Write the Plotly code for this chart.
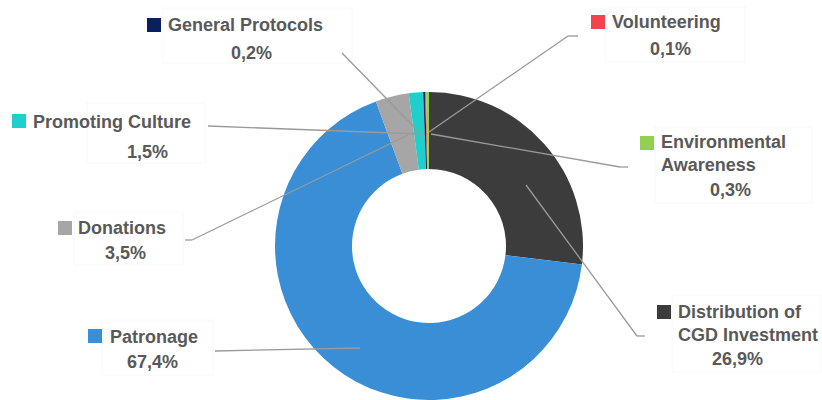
import plotly.graph_objects as go

# ---- data ----
categories = ["Distribution of CGD Investment", "Patronage", "Donations",
              "Promoting Culture", "General Protocols", "Volunteering",
              "Environmental Awareness"]
values = [26.9, 67.4, 3.5, 1.5, 0.2, 0.1, 0.3]
pct_labels = ["26,9%", "67,4%", "3,5%", "1,5%", "0,2%", "0,1%", "0,3%"]
colors = ["#3c3c3c", "#3a8ed6", "#a6a6a6", "#1fcfcc", "#0b1f5c", "#f4424e", "#92d050"]

W, H = 822, 400
def px(x):
    return x / W
def py(y):
    return 1 - y / H

fig = go.Figure()
R = 154
cx = 429
fig.add_trace(go.Pie(
    labels=categories, values=values, sort=False, direction="clockwise",
    rotation=0, hole=0.5, textinfo="none", showlegend=False,
    marker=dict(colors=colors, line=dict(width=0)),
    domain=dict(x=[(cx - R) / W, (cx + R) / W], y=[0, 2 * R / H]),
))

TXT = "#595959"
FONT = dict(family="Liberation Sans, Arial, sans-serif", size=18, color=TXT, weight="bold")

# label layout: (category index, square (x0,y0), text lines [(text, x, y, anchor)], box)
labels_layout = [
    (4, (147, 18), [("General Protocols", 166, 25, "left"), (pct_labels[4], 251, 53, "center")], (163, 8, 352, 63)),
    (5, (591, 15), [("Volunteering", 610, 22, "left"), (pct_labels[5], 670, 49, "center")], (605, 7, 745, 62)),
    (3, (12, 114), [("Promoting Culture", 31, 122, "left"), (pct_labels[3], 147, 152, "center")], (87, 103, 205, 163)),
    (6, (640, 136), [("Environmental", 659, 142, "left"), ("Awareness", 659, 165, "left"), (pct_labels[6], 730, 190, "center")], (655, 127, 812, 203)),
    (2, (58, 221), [("Donations", 76, 228, "left"), (pct_labels[2], 125, 253, "center")], (74, 212, 183, 265)),
    (0, (657, 305), [("Distribution of", 676, 312, "left"), ("CGD Investment", 676, 335, "left"), (pct_labels[0], 737, 359, "center")], (672, 295, 821, 372)),
    (1, (88, 329), [("Patronage", 108, 337, "left"), (pct_labels[1], 152, 362, "center")], (102, 320, 213, 375)),
]

shapes = []
annotations = []
for idx, (sx, sy), lines, box in labels_layout:
    bx0, by0, bx1, by1 = box
    shapes.append(dict(type="rect", xref="paper", yref="paper",
                       x0=px(bx0), x1=px(bx1), y0=py(by1), y1=py(by0),
                       line=dict(color="#f8f8f8", width=1), fillcolor="rgba(0,0,0,0)", layer="below"))
    shapes.append(dict(type="rect", xref="paper", yref="paper",
                       x0=px(sx), x1=px(sx + 14), y0=py(sy + 14), y1=py(sy),
                       line=dict(width=0), fillcolor=colors[idx]))
    for text, tx, ty, anc in lines:
        annotations.append(dict(text=text, xref="paper", yref="paper",
                                x=px(tx), y=py(ty), xanchor=anc, yanchor="middle",
                                showarrow=False, font=FONT))

# leader lines (pixel coordinates)
leaders = [
    [(342, 53), (423, 136)],
    [(578, 36), (568, 36), (429, 132)],
    [(208, 126), (420, 134)],
    [(185, 240), (192, 240), (408, 135)],
    [(628, 167), (620, 167), (431, 134)],
    [(645, 336), (637, 336), (526, 185)],
    [(215, 351), (360, 348)],
]
for pts in leaders:
    for (x0, y0), (x1, y1) in zip(pts[:-1], pts[1:]):
        shapes.append(dict(type="line", xref="paper", yref="paper",
                           x0=px(x0), y0=py(y0), x1=px(x1), y1=py(y1),
                           line=dict(color="#9a9a9a", width=1.3)))

fig.update_layout(
    width=W, height=H, margin=dict(l=0, r=0, t=0, b=0),
    paper_bgcolor="white", plot_bgcolor="white",
    shapes=shapes, annotations=annotations,
)

fig.write_html("out.html", config={"displayModeBar": False},
               post_script="document.body.style.margin='0';document.body.style.overflow='hidden';")
